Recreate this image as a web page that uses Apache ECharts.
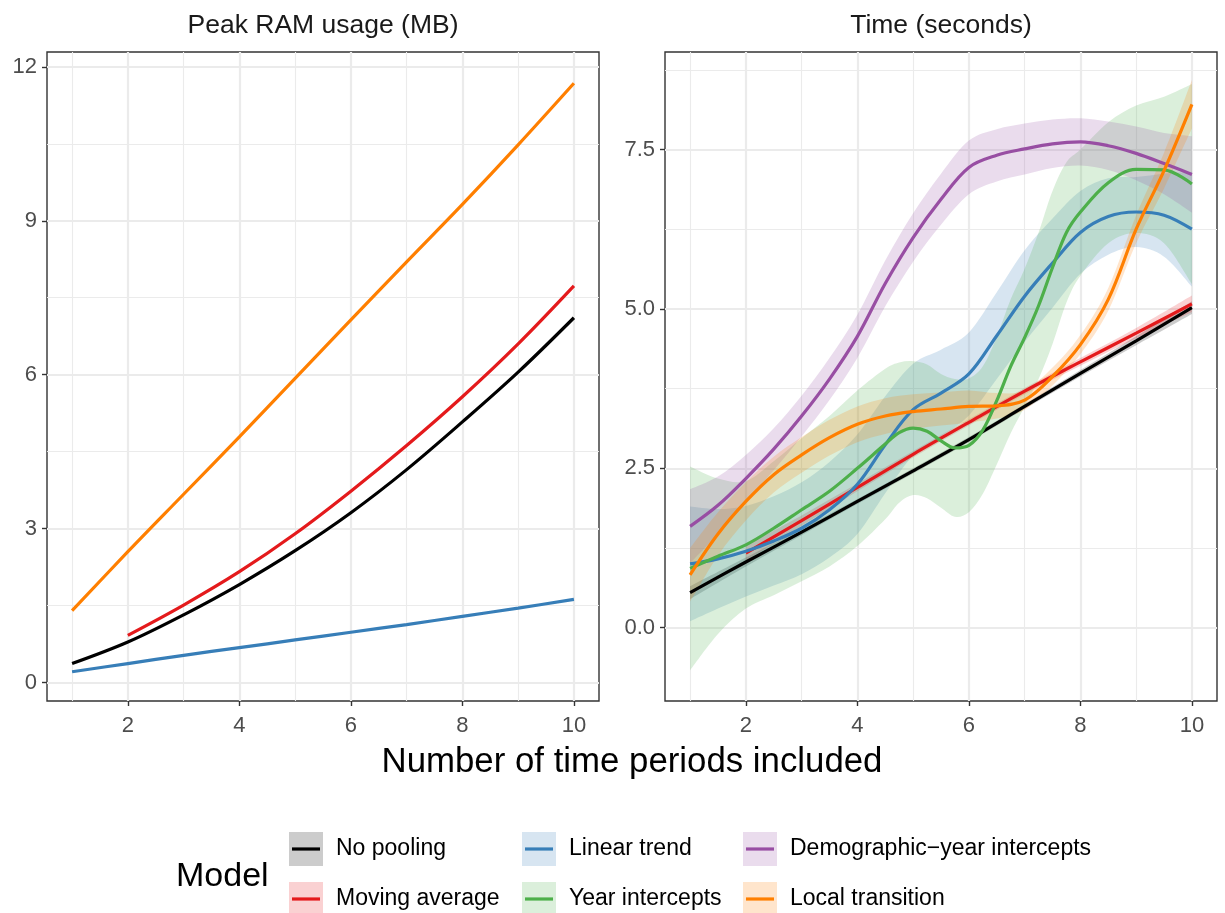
<!DOCTYPE html>
<html>
<head>
<meta charset="utf-8">
<script src="https://cdn.jsdelivr.net/npm/echarts@6/dist/echarts.min.js"></script>
<style>
  html, body { margin: 0; padding: 0; background: #ffffff; }
  #chart { width: 1225px; height: 913px; }
</style>
</head>
<body>
<div id="chart"></div>
<script>
const FONT = '"Liberation Sans", Arial, Helvetica, sans-serif';

// ---- labels and categories ----
const models = ['No pooling', 'Moving average', 'Linear trend', 'Year intercepts',
                'Demographic\u2212year intercepts', 'Local transition'];
const modelColors = ['#000000', '#E41A1C', '#377EB8', '#4DAF4A', '#984EA3', '#FF7F00'];
const panelTitles = ['Peak RAM usage (MB)', 'Time (seconds)'];
const xAxisTitle = 'Number of time periods included';
const legendTitle = 'Model';

// ---- tick labels and grid lines ----
const xTicks = [2, 4, 6, 8, 10];
const xMinor = [1, 3, 5, 7, 9];
const ramTicks = [0, 3, 6, 9, 12];
const ramMinor = [1.5, 4.5, 7.5, 10.5];
const timeTicks = [0, 2.5, 5, 7.5];
const timeMinor = [1.25, 3.75, 6.25, 8.75];

// ---- peak RAM usage (MB) ----
const ramX = [1, 2, 3, 4, 5, 6, 7, 8, 9, 10];
const ramNoPooling = [0.37, 0.79, 1.32, 1.91, 2.57, 3.31, 4.15, 5.08, 6.05, 7.11];
const ramMovingX = [2, 3, 4, 5, 6, 7, 8, 9, 10];
const ramMovingAverage = [0.92, 1.51, 2.16, 2.90, 3.73, 4.62, 5.57, 6.60, 7.73];
const ramLinearTrend = [0.21, 0.37, 0.53, 0.68, 0.83, 0.98, 1.13, 1.29, 1.45, 1.62];
const ramLocalTransition = [1.40, 2.55, 3.67, 4.79, 5.93, 7.07, 8.20, 9.32, 10.48, 11.68];

// ---- time (seconds): smoothed fit with lower / upper band ----
const timeNoPoolingX = [1, 2, 3, 4, 5, 6, 7, 8, 9, 10];
const timeNoPoolingFit = [0.55, 1.03, 1.50, 1.98, 2.46, 2.95, 3.47, 3.99, 4.50, 5.02];
const timeNoPoolingLow = [0.45, 0.96, 1.45, 1.94, 2.42, 2.91, 3.43, 3.94, 4.43, 4.92];
const timeNoPoolingHigh = [0.65, 1.10, 1.55, 2.02, 2.50, 2.99, 3.51, 4.04, 4.57, 5.12];

const timeMovingX = [2, 3, 4, 5, 6, 7, 8, 9, 10];
const timeMovingFit = [1.17, 1.68, 2.20, 2.72, 3.22, 3.71, 4.17, 4.62, 5.08];
const timeMovingLow = [1.05, 1.60, 2.14, 2.67, 3.17, 3.66, 4.11, 4.54, 4.95];
const timeMovingHigh = [1.29, 1.76, 2.26, 2.77, 3.27, 3.76, 4.23, 4.70, 5.21];

const halfStepX = [1, 1.5, 2, 2.5, 3, 3.5, 4, 4.5, 5, 5.5, 6, 6.5, 7, 7.5, 8, 8.5, 9, 9.5, 10];

const timeLinearFit = [1.00, 1.08, 1.20, 1.36, 1.56, 1.85, 2.25, 2.87, 3.42, 3.68, 3.98, 4.58, 5.20, 5.72, 6.20, 6.45, 6.52, 6.47, 6.25];
const timeLinearLow = [0.10, 0.30, 0.49, 0.66, 0.84, 1.10, 1.47, 2.11, 2.70, 3.00, 3.33, 3.90, 4.48, 5.02, 5.55, 5.85, 5.97, 5.82, 5.35];
const timeLinearHigh = [1.90, 1.86, 1.91, 2.06, 2.28, 2.60, 3.03, 3.63, 4.14, 4.36, 4.63, 5.26, 5.92, 6.42, 6.85, 7.05, 7.07, 7.12, 7.15];

const timeYearX = [1, 1.5, 2, 2.5, 3, 3.5, 4, 4.5, 4.75, 5, 5.25, 5.5, 5.75, 6, 6.25, 6.5, 6.75, 7, 7.25, 7.5, 7.75, 8, 8.5, 9, 9.5, 10];
const timeYearFit = [0.93, 1.12, 1.30, 1.56, 1.85, 2.14, 2.50, 2.88, 3.06, 3.13, 3.08, 2.93, 2.82, 2.86, 3.10, 3.56, 4.10, 4.55, 5.05, 5.65, 6.20, 6.52, 6.98, 7.19, 7.18, 6.96];
const timeYearLow = [-0.67, -0.10, 0.30, 0.51, 0.73, 0.96, 1.28, 1.70, 1.96, 2.08, 2.03, 1.88, 1.74, 1.81, 2.10, 2.56, 3.05, 3.47, 3.90, 4.45, 5.10, 5.52, 6.03, 6.19, 6.03, 5.39];
const timeYearHigh = [2.53, 2.34, 2.30, 2.61, 2.97, 3.32, 3.72, 4.06, 4.16, 4.18, 4.13, 3.98, 3.90, 3.91, 4.10, 4.56, 5.15, 5.63, 6.20, 6.85, 7.30, 7.50, 7.93, 8.19, 8.33, 8.53];

const timeDemoFit = [1.59, 1.92, 2.34, 2.80, 3.32, 3.90, 4.57, 5.40, 6.12, 6.72, 7.22, 7.41, 7.51, 7.59, 7.62, 7.56, 7.44, 7.28, 7.11];
const timeDemoLow = [1.01, 1.47, 1.97, 2.47, 3.00, 3.57, 4.23, 5.04, 5.74, 6.32, 6.80, 7.00, 7.11, 7.21, 7.25, 7.18, 7.02, 6.80, 6.51];
const timeDemoHigh = [2.17, 2.37, 2.71, 3.13, 3.64, 4.23, 4.91, 5.76, 6.50, 7.12, 7.64, 7.82, 7.91, 7.97, 7.99, 7.94, 7.86, 7.76, 7.71];

const timeLocalFit = [0.83, 1.47, 1.98, 2.40, 2.71, 2.98, 3.19, 3.32, 3.39, 3.43, 3.47, 3.48, 3.57, 3.94, 4.44, 5.15, 6.25, 7.17, 8.21];
const timeLocalLow = [0.41, 1.13, 1.68, 2.12, 2.43, 2.70, 2.91, 3.04, 3.12, 3.17, 3.22, 3.28, 3.42, 3.80, 4.29, 4.97, 6.03, 6.89, 7.83];
const timeLocalHigh = [1.25, 1.81, 2.28, 2.68, 2.99, 3.26, 3.47, 3.60, 3.66, 3.69, 3.72, 3.68, 3.72, 4.08, 4.59, 5.33, 6.47, 7.45, 8.59];

// ---- axis ranges (5% expansion around the data) ----
const X_RANGE = [0.55, 10.45];
const RAM_RANGE = [-0.36, 12.29];
const TIME_RANGE = [-1.15, 9.03];

// ---- per-panel tables ----
const ramLines = [
  { model: 0, x: ramX, y: ramNoPooling },
  { model: 1, x: ramMovingX, y: ramMovingAverage },
  { model: 2, x: ramX, y: ramLinearTrend },
  { model: 5, x: ramX, y: ramLocalTransition }
];
const timeFits = [
  { model: 0, x: timeNoPoolingX, fit: timeNoPoolingFit, low: timeNoPoolingLow, high: timeNoPoolingHigh },
  { model: 1, x: timeMovingX, fit: timeMovingFit, low: timeMovingLow, high: timeMovingHigh },
  { model: 2, x: halfStepX, fit: timeLinearFit, low: timeLinearLow, high: timeLinearHigh },
  { model: 3, x: timeYearX, fit: timeYearFit, low: timeYearLow, high: timeYearHigh },
  { model: 4, x: halfStepX, fit: timeDemoFit, low: timeDemoLow, high: timeDemoHigh },
  { model: 5, x: halfStepX, fit: timeLocalFit, low: timeLocalLow, high: timeLocalHigh }
];

const LINE_W = 3.2;
const SMOOTH = 0.35;
const BAND_ALPHA = 0.2;
const GRID_COLOR = '#EBEBEB';

function pairs(xs, ys) { return xs.map((x, i) => [x, ys[i]]); }

// Cubic Bezier path through pixel points (cardinal spline), continuing from the current point.
function splineSegments(pts, k) {
  let d = '';
  for (let i = 0; i < pts.length - 1; i++) {
    const p0 = pts[Math.max(0, i - 1)], p1 = pts[i], p2 = pts[i + 1], p3 = pts[Math.min(pts.length - 1, i + 2)];
    const c1x = p1[0] + (p2[0] - p0[0]) * k, c1y = p1[1] + (p2[1] - p0[1]) * k;
    const c2x = p2[0] - (p3[0] - p1[0]) * k, c2y = p2[1] - (p3[1] - p1[1]) * k;
    d += ' C' + c1x.toFixed(2) + ' ' + c1y.toFixed(2) + ' ' + c2x.toFixed(2) + ' ' + c2y.toFixed(2) +
         ' ' + p2[0].toFixed(2) + ' ' + p2[1].toFixed(2);
  }
  return d;
}

// Confidence band drawn as one filled shape: upper edge left to right, lower edge right to left.
function bandSeries(f) {
  return {
    type: 'custom', xAxisIndex: 1, yAxisIndex: 1, silent: true, animation: false, clip: true,
    data: f.x.map((x, i) => [x, f.low[i], f.high[i]]),
    renderItem: function (params, api) {
      if (params.dataIndexInside !== 0) return null;
      const n = params.dataInsideLength;
      const upper = [], lower = [];
      for (let i = 0; i < n; i++) {
        const x = api.value(0, i);
        upper.push(api.coord([x, api.value(2, i)]));
        lower.push(api.coord([x, api.value(1, i)]));
      }
      lower.reverse();
      let d = 'M' + upper[0][0].toFixed(2) + ' ' + upper[0][1].toFixed(2) + splineSegments(upper, 1 / 6);
      d += ' L' + lower[0][0].toFixed(2) + ' ' + lower[0][1].toFixed(2) + splineSegments(lower, 1 / 6) + ' Z';
      return {
        type: 'path', shape: { pathData: d },
        style: { fill: modelColors[f.model], opacity: BAND_ALPHA, stroke: null }
      };
    }
  };
}

function gridLineSeries(idx, xVals, yVals, yRange, width) {
  const data = [];
  xVals.forEach(v => data.push({ coords: [[v, yRange[0]], [v, yRange[1]]] }));
  yVals.forEach(v => data.push({ coords: [[X_RANGE[0], v], [X_RANGE[1], v]] }));
  return {
    type: 'lines', coordinateSystem: 'cartesian2d', xAxisIndex: idx, yAxisIndex: idx,
    data: data, silent: true, z: 1, animation: false,
    lineStyle: { color: GRID_COLOR, width: width, opacity: 1, curveness: 0 }
  };
}

function lineSeries(axisIdx, modelIdx, data) {
  return {
    type: 'line', xAxisIndex: axisIdx, yAxisIndex: axisIdx, name: models[modelIdx],
    data: data, smooth: SMOOTH, symbol: 'none', animation: false, silent: true,
    lineStyle: { color: modelColors[modelIdx], width: LINE_W, cap: 'butt' },
    itemStyle: { color: modelColors[modelIdx] }
  };
}

const series = [];
series.push(gridLineSeries(0, xMinor, ramMinor, RAM_RANGE, 1.1));
series.push(gridLineSeries(0, xTicks, ramTicks, RAM_RANGE, 2.2));
series.push(gridLineSeries(1, xMinor, timeMinor, TIME_RANGE, 1.1));
series.push(gridLineSeries(1, xTicks, timeTicks, TIME_RANGE, 2.2));

ramLines.forEach(l => series.push(lineSeries(0, l.model, pairs(l.x, l.y))));

// each model: band first, then its fitted curve
timeFits.forEach(f => {
  series.push(bandSeries(f));
  series.push(lineSeries(1, f.model, pairs(f.x, f.fit)));
});

const tickStyle = { length: 5, lineStyle: { color: '#333333', width: 1.4 } };
const labelStyle = { color: '#4D4D4D', fontSize: 22, fontFamily: FONT };

function xAxisDef(gridIndex) {
  return {
    type: 'value', gridIndex: gridIndex, min: X_RANGE[0], max: X_RANGE[1],
    axisLine: { show: false, onZero: false },
    axisTick: Object.assign({ customValues: xTicks }, tickStyle),
    axisLabel: Object.assign({ customValues: xTicks, margin: 14, hideOverlap: false }, labelStyle),
    splitLine: { show: false }
  };
}
function yAxisDef(gridIndex, range, ticks, fmt) {
  return {
    type: 'value', gridIndex: gridIndex, min: range[0], max: range[1],
    axisLine: { show: false, onZero: false },
    axisTick: Object.assign({ customValues: ticks }, tickStyle),
    axisLabel: Object.assign({ customValues: ticks, margin: 10, formatter: fmt, hideOverlap: false }, labelStyle),
    splitLine: { show: false }
  };
}

const gridBase = { top: 52, height: 649, width: 552, show: true, borderColor: '#333333',
                   borderWidth: 1.4, backgroundColor: '#ffffff', containLabel: false, outerBoundsMode: 'none' };

// ---- legend drawn as graphic elements ----
const legendCols = [289, 522, 743];
const legendRows = [832, 882];
const KEY = 34;
const LABEL_GAP = 47;
const graphics = [];
graphics.push({
  type: 'text', x: 176, y: 877,
  style: { text: legendTitle, font: '34px ' + FONT, fill: '#000000', textAlign: 'left', textVerticalAlign: 'middle' }
});
models.forEach((m, i) => {
  const kx = legendCols[Math.floor(i / 2)];
  const ky = legendRows[i % 2];
  graphics.push({
    type: 'rect', shape: { x: kx, y: ky, width: KEY, height: KEY },
    style: { fill: modelColors[i], opacity: BAND_ALPHA }
  });
  graphics.push({
    type: 'line', shape: { x1: kx + 3, y1: ky + KEY / 2, x2: kx + KEY - 3, y2: ky + KEY / 2 },
    style: { stroke: modelColors[i], lineWidth: LINE_W }
  });
  graphics.push({
    type: 'text', x: kx + LABEL_GAP, y: ky + KEY / 2,
    style: { text: m, font: '23px ' + FONT, fill: '#000000', textAlign: 'left', textVerticalAlign: 'middle' }
  });
});
// panel titles and shared axis title
graphics.push({
  type: 'text', x: 323, y: 26,
  style: { text: panelTitles[0], font: '26.5px ' + FONT, fill: '#1A1A1A', textAlign: 'center', textVerticalAlign: 'middle' }
});
graphics.push({
  type: 'text', x: 941, y: 26,
  style: { text: panelTitles[1], font: '26.5px ' + FONT, fill: '#1A1A1A', textAlign: 'center', textVerticalAlign: 'middle' }
});
graphics.push({
  type: 'text', x: 632, y: 762,
  style: { text: xAxisTitle, font: '34.8px ' + FONT, fill: '#000000', textAlign: 'center', textVerticalAlign: 'middle' }
});

const chart = echarts.init(document.getElementById('chart'), null, { renderer: 'canvas' });
chart.setOption({
  animation: false,
  backgroundColor: '#ffffff',
  grid: [
    Object.assign({ left: 47 }, gridBase),
    Object.assign({ left: 665 }, gridBase)
  ],
  xAxis: [xAxisDef(0), xAxisDef(1)],
  yAxis: [
    yAxisDef(0, RAM_RANGE, ramTicks, v => String(Math.round(v))),
    yAxisDef(1, TIME_RANGE, timeTicks, v => v.toFixed(1))
  ],
  series: series,
  graphic: graphics
});
</script>
</body>
</html>
